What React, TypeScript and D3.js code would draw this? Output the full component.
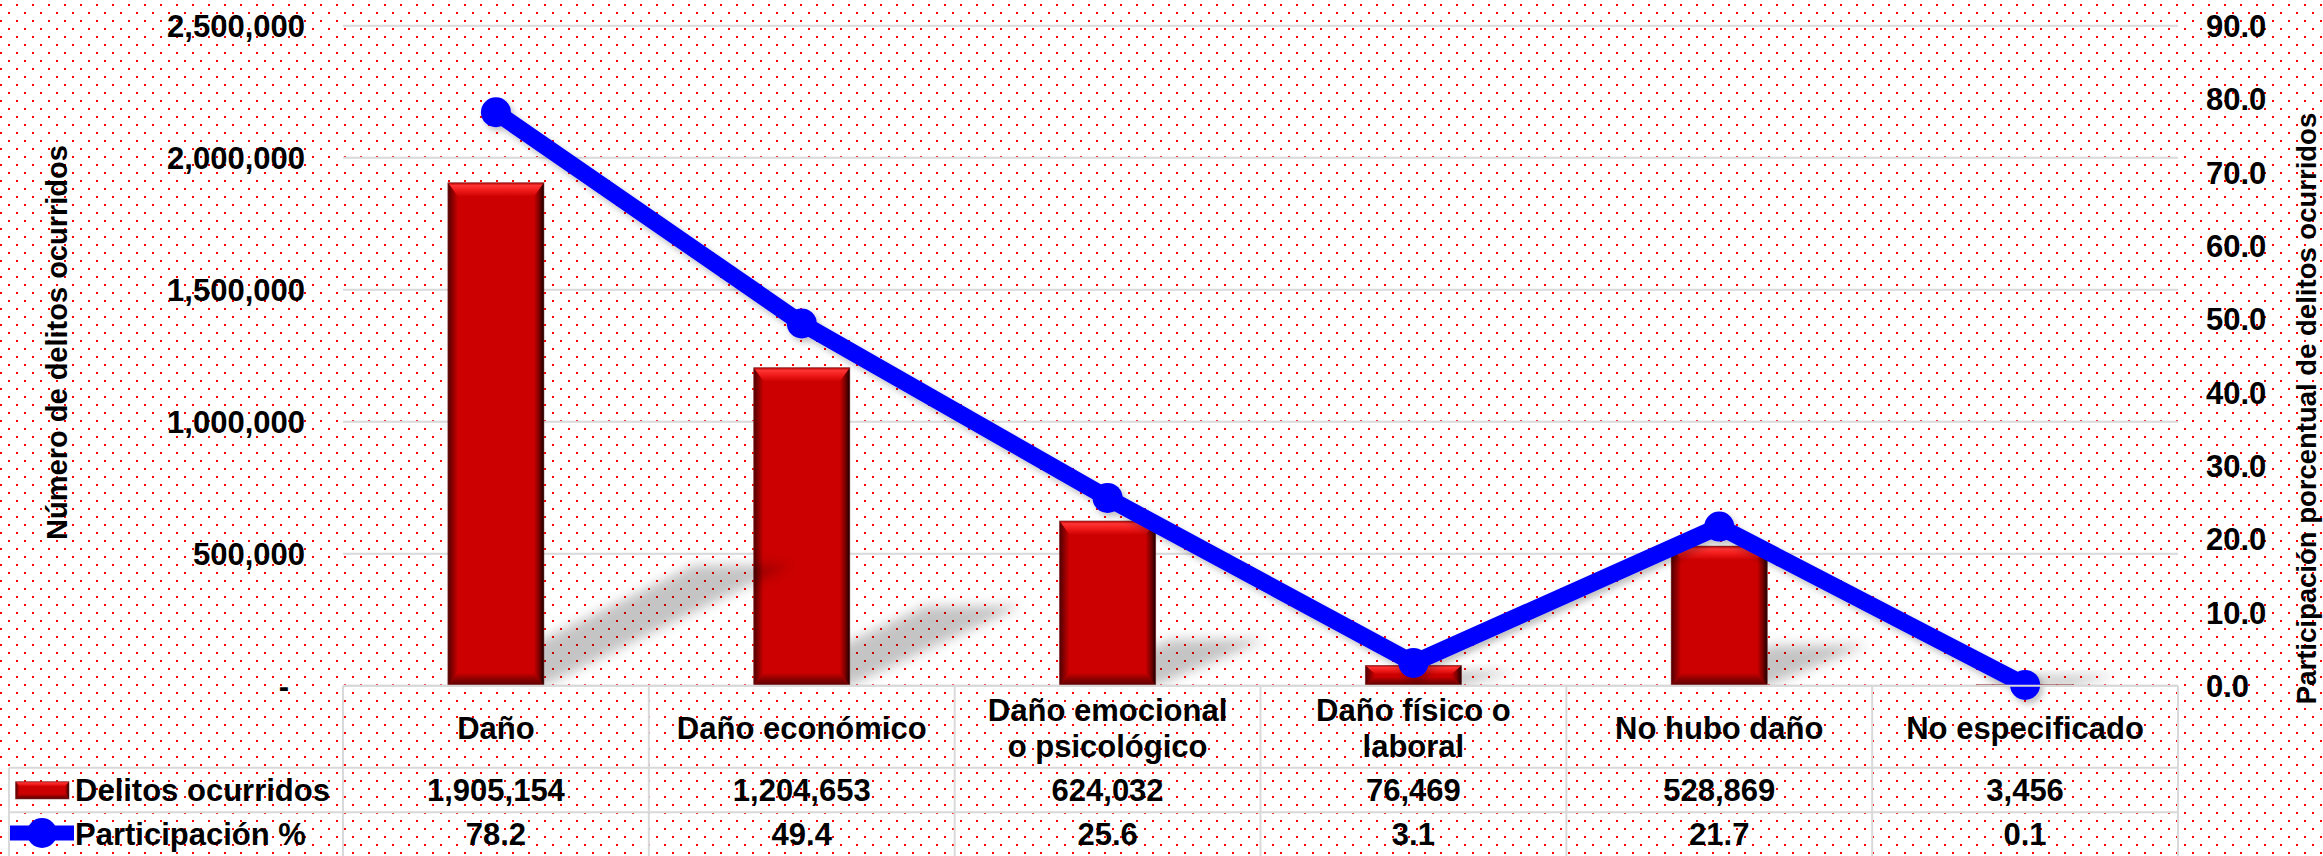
import React from 'react';
import * as d3 from 'd3';

const categories = ["Daño", "Daño económico", "Daño emocional o psicológico", "Daño físico o laboral", "No hubo daño", "No especificado"];
const categoryLabelLines = [["Daño"], ["Daño económico"], ["Daño emocional", "o psicológico"], ["Daño físico o", "laboral"], ["No hubo daño"], ["No especificado"]];
const delitos = [1905154, 1204653, 624032, 76469, 528869, 3456];
const participacion = [78.2, 49.4, 25.6, 3.1, 21.7, 0.1];
const participacionLabels = ["78.2", "49.4", "25.6", "3.1", "21.7", "0.1"];
const leftTicks = [0, 500000, 1000000, 1500000, 2000000, 2500000];
const rightTicks = [0, 10, 20, 30, 40, 50, 60, 70, 80, 90];
const seriesNames = ["Delitos ocurridos", "Participación %"];
const leftAxisTitle = "Número de delitos ocurridos";
const rightAxisTitle = "Participación porcentual de delitos ocurridos";

const W = 2323, H = 856;
const PL = 343, PR = 2178, PT = 25.7, PB = 685.7;
const ROW1 = 767.7, ROW2 = 812.3, TB = 857;
const LEG_X = 9;
const FONT = "'Liberation Sans', Arial, sans-serif";
const GRID = "#D9D9D9";

function BevelBar({ x0, y0, x1, y1, bt, bs, bb }: any) {
  const P = (pts: number[][]) => pts.map(p => p.join(',')).join(' ');
  return (
    <g>
      <rect x={x0} y={y0} width={x1 - x0} height={y1 - y0} fill="#CC0000" />
      <polygon points={P([[x0, y0], [x1, y0], [x1 - bs, y0 + bt], [x0 + bs, y0 + bt]])} fill="url(#gTop)" />
      <polygon points={P([[x0, y1], [x1, y1], [x1 - bs, y1 - bb], [x0 + bs, y1 - bb]])} fill="url(#gBottom)" />
      <polygon points={P([[x0, y0], [x0 + bs, y0 + bt], [x0 + bs, y1 - bb], [x0, y1]])} fill="url(#gLeft)" />
      <polygon points={P([[x1, y0], [x1 - bs, y0 + bt], [x1 - bs, y1 - bb], [x1, y1]])} fill="url(#gRight)" />
      <rect x={x0} y={y0} width={x1 - x0} height={y1 - y0} fill="none" stroke="rgba(120,60,60,0.55)" strokeWidth={1} />
    </g>
  );
}

export default function App() {
  const x = d3.scaleBand<string>().domain(categories).range([PL, PR]).paddingInner(0).paddingOuter(0);
  const yL = d3.scaleLinear().domain([0, 2500000]).range([PB, PT]);
  const yR = d3.scaleLinear().domain([0, 90]).range([PB, PT]);
  const bw = x.bandwidth() * 0.314;
  const cx = (i: number) => (x(categories[i]) as number) + x.bandwidth() / 2;
  const fmt = d3.format(",");
  const lineGen = d3.line<number>().x((_, i) => cx(i)).y(d => yR(d));
  const order = categories.map((_, i) => i).reverse();
  const colEdges = categories.map(c => x(c) as number).concat([PR]);

  return (
    <svg width={W} height={H} style={{ position: 'absolute', left: 0, top: 0, display: 'block' }} fontFamily={FONT}>
      <defs>
        <pattern id="dots" width={16} height={16} patternUnits="userSpaceOnUse">
          <rect x={0} y={4} width={2} height={2} fill="#FF0000" />
          <rect x={8} y={12} width={2} height={2} fill="#FF0000" />
        </pattern>
        <linearGradient id="gTop" x1="0" y1="0" x2="0" y2="1">
          <stop offset="0" stopColor="#B00000" />
          <stop offset="0.2" stopColor="#FF3434" />
          <stop offset="0.55" stopColor="#F01A1A" />
          <stop offset="1" stopColor="#CC0000" />
        </linearGradient>
        <linearGradient id="gBottom" x1="0" y1="0" x2="0" y2="1">
          <stop offset="0" stopColor="#CC0000" />
          <stop offset="0.5" stopColor="#8A0000" />
          <stop offset="1" stopColor="#5A0000" />
        </linearGradient>
        <linearGradient id="gLeft" x1="0" y1="0" x2="1" y2="0">
          <stop offset="0" stopColor="#500000" />
          <stop offset="1" stopColor="#CC0000" />
        </linearGradient>
        <linearGradient id="gRight" x1="0" y1="0" x2="1" y2="0">
          <stop offset="0" stopColor="#CC0000" />
          <stop offset="0.6" stopColor="#700000" />
          <stop offset="1" stopColor="#150000" />
        </linearGradient>
        <filter id="blurShadow" x="-50%" y="-50%" width="200%" height="200%">
          <feGaussianBlur stdDeviation="6" />
        </filter>
        <filter id="lineShadow" x="-10%" y="-10%" width="120%" height="120%">
          <feDropShadow dx="3" dy="4" stdDeviation="3" floodColor="#000" floodOpacity="0.25" />
        </filter>
        <clipPath id="plotClip">
          <rect x={PL} y={0} width={PR - PL} height={PB} />
        </clipPath>
      </defs>

      <rect x={0} y={0} width={W} height={H} fill="#FFFFFF" />
      <rect x={0} y={0} width={W} height={H} fill="url(#dots)" />

      {/* gridlines */}
      {leftTicks.map(t => (
        <line key={'g' + t} x1={PL} x2={PR} y1={yL(t)} y2={yL(t)} stroke={GRID} strokeWidth={2} />
      ))}

      {/* bars with shadows */}
      <g>
        {order.map(i => {
          const x0 = cx(i) - bw / 2, x1 = cx(i) + bw / 2;
          const y0 = yL(delitos[i]), y1 = yL(0);
          const h = y1 - y0;
          const dx = 0.4 * h + 45, dy = 0.22 * h + 10;
          const bt = Math.min(14, h * 0.45), bb = Math.min(13, h * 0.45), bs = Math.min(10, bw / 2);
          return (
            <g key={'b' + i}>
              <g clipPath="url(#plotClip)">
                <polygon
                  points={[[x0, y1], [x1, y1], [x1 + dx, y1 - dy], [x0 + dx, y1 - dy]].map(p => p.join(',')).join(' ')}
                  fill="rgba(0,0,0,0.23)" filter="url(#blurShadow)" />
              </g>
              <BevelBar x0={x0} y0={y0} x1={x1} y1={y1} bt={bt} bs={bs} bb={bb} />
            </g>
          );
        })}
      </g>

      {/* line series */}
      <g filter="url(#lineShadow)">
        <path d={lineGen(participacion) as string} fill="none" stroke="#0000FF" strokeWidth={17} strokeLinejoin="round" />
        {participacion.map((v, i) => (
          <circle key={'m' + i} cx={cx(i)} cy={yR(v)} r={15} fill="#0000FF" />
        ))}
      </g>

      {/* left axis labels */}
      {leftTicks.map(t => (
        t === 0 ? (
          <text key={'l' + t} x={289} y={yL(t)} dy="0.36em" textAnchor="end" fontSize={31} fontWeight="bold" fill="#000">-</text>
        ) : (
          <text key={'l' + t} x={305} y={yL(t)} dy="0.36em" textAnchor="end" fontSize={31} fontWeight="bold" fill="#000">{fmt(t)}</text>
        )
      ))}

      {/* right axis labels */}
      {rightTicks.map(t => (
        <text key={'r' + t} x={2206} y={yR(t)} dy="0.36em" textAnchor="start" fontSize={31} fontWeight="bold" fill="#000">{t.toFixed(1)}</text>
      ))}

      {/* axis titles */}
      <text transform={`translate(67,342.5) rotate(-90)`} textAnchor="middle" fontSize={29} fontWeight="bold" fill="#000">{leftAxisTitle}</text>
      <text transform={`translate(2316,408.5) rotate(-90)`} textAnchor="middle" fontSize={27.5} fontWeight="bold" fill="#000">{rightAxisTitle}</text>

      {/* data table */}
      <g stroke={GRID} strokeWidth={2}>
        <line x1={PL} x2={PR} y1={PB} y2={PB} />
        <line x1={LEG_X} x2={PR} y1={ROW1} y2={ROW1} />
        <line x1={LEG_X} x2={PR} y1={ROW2} y2={ROW2} />
        <line x1={LEG_X} x2={PR} y1={TB} y2={TB} />
        <line x1={LEG_X} x2={LEG_X} y1={ROW1} y2={TB} />
        {colEdges.map((e, k) => (
          <line key={'c' + k} x1={e} x2={e} y1={PB} y2={TB} />
        ))}
      </g>

      {categoryLabelLines.map((lines, i) => {
        const mid = (PB + ROW1) / 2 + 1;
        const lh = 36.7;
        const start = mid - ((lines.length - 1) * lh) / 2;
        return lines.map((ln, j) => (
          <text key={'h' + i + '-' + j} x={cx(i)} y={start + j * lh} dy="0.36em" textAnchor="middle" fontSize={31} fontWeight="bold" fill="#000">{ln}</text>
        ));
      })}

      {delitos.map((v, i) => (
        <text key={'d' + i} x={cx(i)} y={(ROW1 + ROW2) / 2} dy="0.36em" textAnchor="middle" fontSize={31} fontWeight="bold" fill="#000">{fmt(v)}</text>
      ))}
      {participacionLabels.map((v, i) => (
        <text key={'p' + i} x={cx(i)} y={(ROW2 + TB) / 2 - 1} dy="0.36em" textAnchor="middle" fontSize={31} fontWeight="bold" fill="#000">{v}</text>
      ))}

      {/* legend keys */}
      <BevelBar x0={15.6} y0={781.7} x1={69} y1={799} bt={5} bs={4} bb={5} />
      <text x={75} y={(ROW1 + ROW2) / 2} dy="0.36em" textAnchor="start" fontSize={31} fontWeight="bold" fill="#000">{seriesNames[0]}</text>
      <line x1={10} x2={74} y1={833} y2={833} stroke="#0000FF" strokeWidth={15} />
      <circle cx={42} cy={833} r={15} fill="#0000FF" />
      <text x={75} y={(ROW2 + TB) / 2 - 1} dy="0.36em" textAnchor="start" fontSize={31} fontWeight="bold" fill="#000">{seriesNames[1]}</text>
    </svg>
  );
}
